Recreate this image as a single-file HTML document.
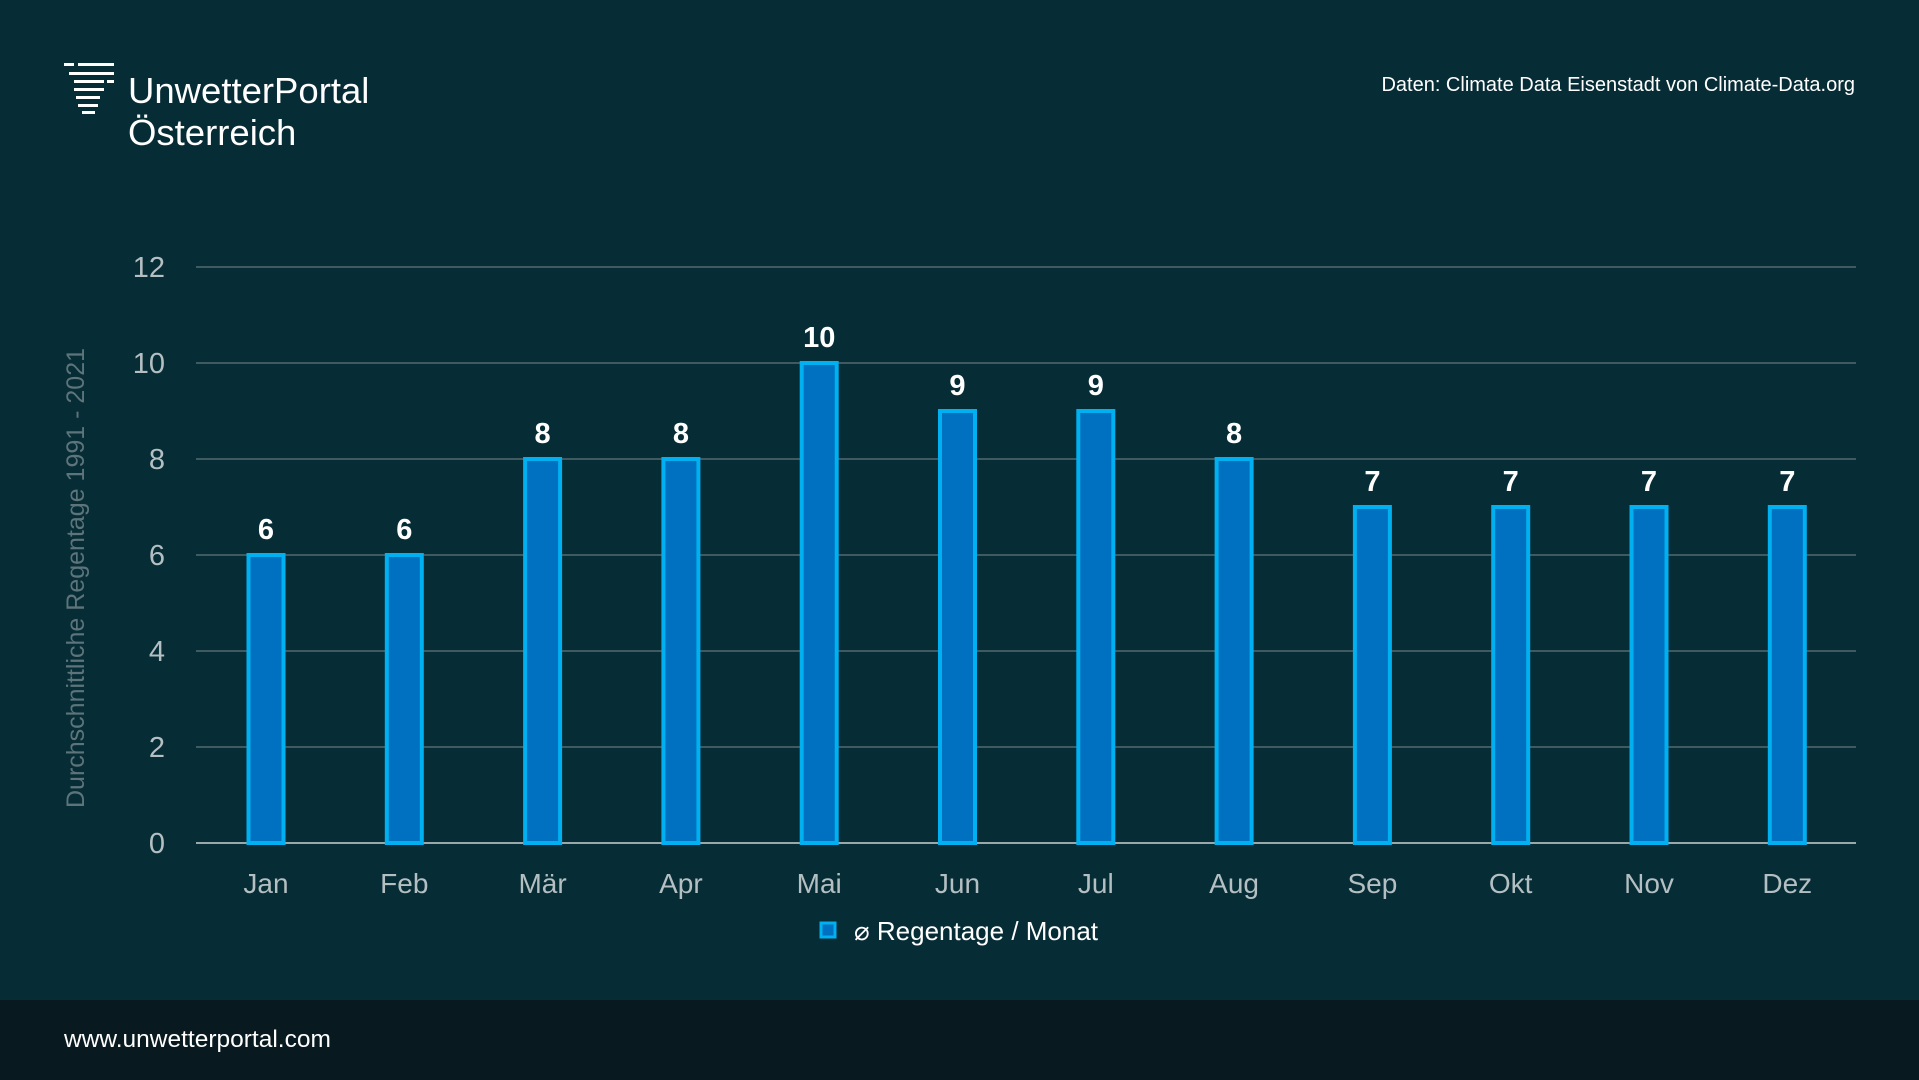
<!DOCTYPE html>
<html><head><meta charset="utf-8"><style>
html,body{margin:0;padding:0;}
body{width:1919px;height:1080px;background:#062c36;position:relative;overflow:hidden;font-family:"Liberation Sans",sans-serif;}
.footer{position:absolute;left:0;top:1000px;width:1919px;height:80px;background:#08191f;}
</style></head><body>
<svg width="1919" height="1080" style="position:absolute;left:0;top:0" font-family="Liberation Sans, sans-serif">
<g fill="#fff">
<rect x="64" y="63" width="10" height="3"/><rect x="78" y="63" width="36" height="3"/>
<rect x="69" y="72" width="45" height="3"/>
<rect x="74" y="80" width="30" height="3"/><rect x="107" y="80" width="7" height="3"/>
<rect x="74" y="88" width="30" height="3"/>
<rect x="76" y="96" width="24" height="3"/>
<rect x="78" y="104" width="20" height="3"/>
<rect x="82" y="111" width="13" height="3"/>
</g>
<text x="128" y="103" fill="#fff" font-size="36.5">UnwetterPortal</text>
<text x="128" y="145" fill="#fff" font-size="36.5">Österreich</text>
<text x="1855" y="91" fill="#fff" font-size="20" text-anchor="end">Daten: Climate Data Eisenstadt von Climate-Data.org</text>
<text transform="translate(84,578) rotate(-90)" fill="#5d747a" font-size="25" text-anchor="middle">Durchschnittliche Regentage 1991 - 2021</text>
<g stroke="#3f5a60" stroke-width="2">
<line x1="196" x2="1856" y1="267" y2="267"/><line x1="196" x2="1856" y1="363" y2="363"/>
<line x1="196" x2="1856" y1="459" y2="459"/><line x1="196" x2="1856" y1="555" y2="555"/>
<line x1="196" x2="1856" y1="651" y2="651"/><line x1="196" x2="1856" y1="747" y2="747"/>
</g>
<line x1="196" x2="1856" y1="843" y2="843" stroke="#9aa8ab" stroke-width="2"/>
<g fill="#b4bfc2" font-size="29" text-anchor="end">
<text x="165" y="277">12</text><text x="165" y="373">10</text><text x="165" y="469">8</text>
<text x="165" y="565">6</text><text x="165" y="661">4</text><text x="165" y="757">2</text><text x="165" y="853">0</text>
</g>
<g id="bars"></g>
<rect x="821" y="923" width="14" height="14" fill="#0070c0" stroke="#00b0f0" stroke-width="3"/>
<text x="854" y="940" fill="#fff" font-size="26">⌀ Regentage / Monat</text>
</svg>
<div class="footer"></div>
<div style="position:absolute;left:64px;top:1026px;color:#fff;font-size:24.5px;">www.unwetterportal.com</div>
<script>
var v=[6,6,8,8,10,9,9,8,7,7,7,7],m=["Jan","Feb","Mär","Apr","Mai","Jun","Jul","Aug","Sep","Okt","Nov","Dez"],s="";
for(var i=0;i<12;i++){var c=266+i*138.3,t=843-v[i]*48;
s+='<rect x="'+(c-17.5)+'" y="'+t+'" width="35" height="'+(843-t)+'" fill="#0070c0" stroke="#00b0f0" stroke-width="4"/>';
s+='<text x="'+c+'" y="'+(t-16)+'" fill="#fff" font-size="29" font-weight="bold" text-anchor="middle">'+v[i]+'</text>';
s+='<text x="'+c+'" y="893" fill="#b4bfc2" font-size="28" text-anchor="middle">'+m[i]+'</text>';}
document.getElementById("bars").innerHTML=s;
</script>
</body></html>
